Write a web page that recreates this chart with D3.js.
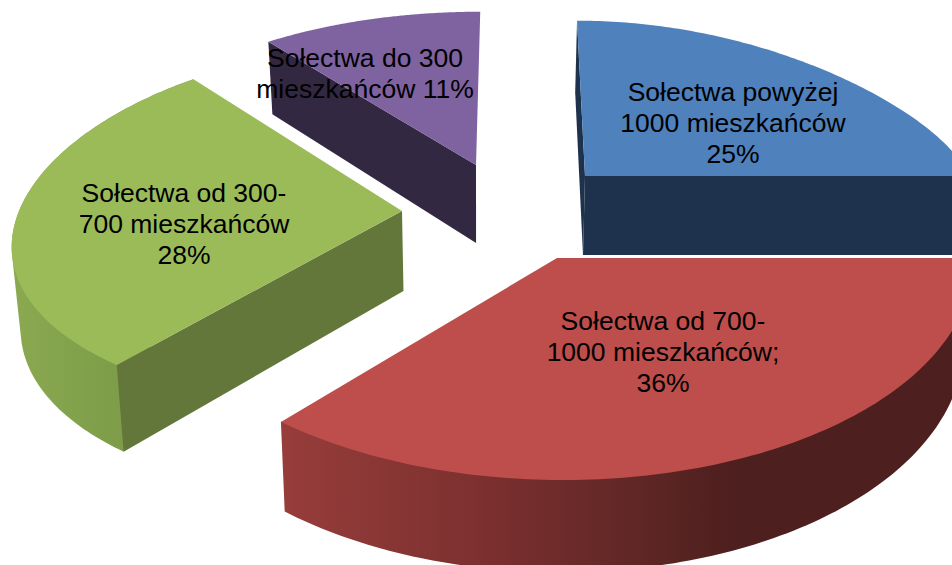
<!DOCTYPE html>
<html><head><meta charset="utf-8">
<script src="https://cdn.jsdelivr.net/npm/d3@7/dist/d3.min.js"></script>
<style>html,body{margin:0;padding:0;background:#fff}svg{display:block}</style>
</head><body><div id="chart"></div>
<script>
// ---- data ----
const categories = ["Sołectwa powyżej 1000 mieszkańców","Sołectwa od 700-1000 mieszkańców","Sołectwa od 300-700 mieszkańców","Sołectwa do 300 mieszkańców"];
const values = [25,36,28,11];
const labelLines = [
  ["Sołectwa powyżej","1000 mieszkańców","25%"],
  ["Sołectwa od 700-","1000 mieszkańców;","36%"],
  ["Sołectwa od 300-","700 mieszkańców","28%"],
  ["Sołectwa do 300","mieszkańców 11%"]
];
// ---- styles ----
const topColors  = ["#4f81bd","#bd4e4c","#9bbb59","#7f62a0"];
const cutColors  = ["#1f324d","#4d1f1e","#64773a","#332842"];
const rimStops   = [
  [[0,"#1f324d"],[1,"#1f324d"]],
  [[0,"#973d3b"],[.315,"#792f2e"],[.557,"#5a2523"],[.65,"#4d1f1e"],[1,"#4d1f1e"]],
  [[0,"#8aa950"],[.5,"#7f9e4a"],[1,"#789445"]],
  [[0,"#332842"],[1,"#332842"]]
];
// ---- projected geometry of each exploded slice: apex, radii, skew, perspective ----
const apexX=[585,557,402,476], apexY=[176,258,211,165];
const radX=[384,416,383,377], radY=[132,222,183,187], skew=[-9,-6,5,5];
const persX=[.13,0,.18,.18], persY=[-.15,0,.1,.22];
const thick=[79,83,80,78];
const startWarp=[0,0,-.5,0], endWarp=[0,2.8,.5,0]; // degrees, perspective warp of slice ends
const showRim=[false,true,true,false];
const wallAtEnd=[true,false,false,false];   // big radial wall facing the viewer, at the slice's end
const wallAtStart=[true,false,true,true];   // radial wall at the slice's start
const labelX=[733,663,184,365], labelY=[101,330,202,67];
const vanishX=480, vanishRate=.019, depthPers=.1, W=952, H=565, fontSize=26.5, lineH=31.2;

const svg=d3.select("#chart").append("svg").attr("width",W).attr("height",H);
const defs=svg.append("defs");
const arcs=d3.pie().sort(null).value(d=>d)(values);
const rad=Math.PI/180;

function project(i,a){
  const u=Math.sin(a), v=Math.cos(a);
  return [apexX[i]+(radX[i]*u+skew[i]*v)/(1+persX[i]*v),
          apexY[i]-radY[i]*v/(1+persY[i]*v), v];
}
function drop(i,p){
  return [p[0]+(vanishX-p[0])*vanishRate, p[1]+thick[i]/(1+depthPers*(p[2]||0)), p[2]];
}
const xy=p=>[p[0],p[1]];
const line=d3.line();
const order=[3,0,2,1];
order.forEach(i=>{
  const d=arcs[i];
  const n=120;
  const a0=d.startAngle+startWarp[i]*rad, a1=d.endAngle+endWarp[i]*rad;
  const angles=d3.range(n+1).map(k=>a0+(a1-a0)*k/n);
  const arcTop=angles.map(a=>project(i,a));
  const arcBot=arcTop.map(p=>drop(i,p));
  const apex=[apexX[i],apexY[i],0], apexB=drop(i,apex);
  const g=svg.append("g");
  if(showRim[i]){
    const xs=d3.extent(arcTop.concat(arcBot),p=>p[0]);
    const gid="rim"+i;
    const gr=defs.append("linearGradient").attr("id",gid).attr("gradientUnits","userSpaceOnUse")
      .attr("x1",xs[0]).attr("x2",xs[1]).attr("y1",0).attr("y2",0);
    rimStops[i].forEach(s=>gr.append("stop").attr("offset",s[0]).attr("stop-color",s[1]));
    const hull=d3.polygonHull(arcTop.concat(arcBot).map(xy));
    g.append("path").attr("d",line(hull)+"Z").attr("fill",`url(#${gid})`);
  }
  const wall=p=>g.append("path").attr("d",line([p,apex,apexB,drop(i,p)].map(xy))+"Z").attr("fill",cutColors[i]);
  if(wallAtStart[i]) wall(arcTop[0]);
  if(wallAtEnd[i]) wall(arcTop[n]);
  g.append("path").attr("d",line([apex].concat(arcTop).map(xy))+"Z").attr("fill",topColors[i]);
});
// labels
order.forEach(i=>{
  const t=svg.append("text").attr("text-anchor","middle").attr("fill","#000")
    .attr("font-family","'Liberation Sans',Arial,sans-serif").attr("font-size",fontSize);
  labelLines[i].forEach((s,k)=>t.append("tspan").attr("x",labelX[i]).attr("y",labelY[i]+k*lineH).text(s));
});
</script></body></html>
